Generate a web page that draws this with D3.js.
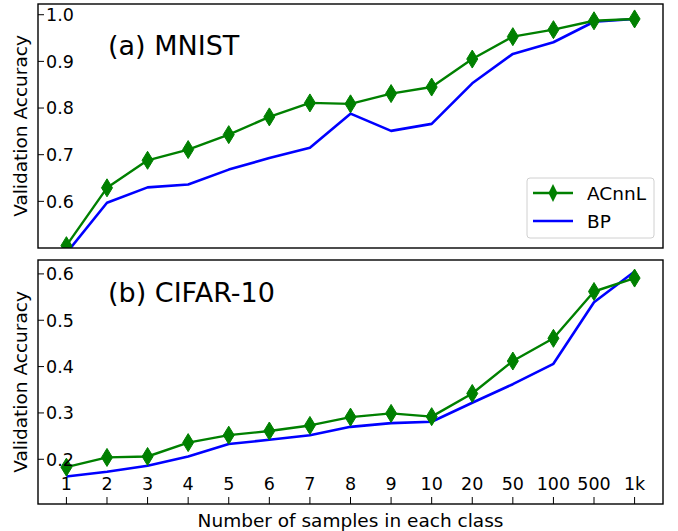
<!DOCTYPE html>
<html>
<head>
<meta charset="utf-8">
<script src="https://cdn.jsdelivr.net/npm/d3@7"></script>
<style>
  body { margin: 0; background: #fff; }
  text { font-family: "DejaVu Sans", sans-serif; fill: #000; }
</style>
</head>
<body>
<div id="chart"></div>
<script>
const categories = ["1", "2", "3", "4", "5", "6", "7", "8", "9", "10", "20", "50", "100", "500", "1k"];

const mnistACnnL = [0.505, 0.629, 0.688, 0.711, 0.743, 0.781, 0.811, 0.809, 0.831, 0.845, 0.905, 0.953, 0.968, 0.987, 0.991];
const mnistBP    = [0.489, 0.597, 0.630, 0.636, 0.668, 0.693, 0.715, 0.788, 0.751, 0.766, 0.853, 0.916, 0.941, 0.985, 0.991];

const cifarACnnL = [0.183, 0.204, 0.206, 0.236, 0.252, 0.261, 0.273, 0.291, 0.299, 0.292, 0.342, 0.412, 0.461, 0.562, 0.591];
const cifarBP    = [0.163, 0.173, 0.186, 0.206, 0.233, 0.242, 0.252, 0.270, 0.278, 0.281, 0.322, 0.362, 0.406, 0.539, 0.605];

const mnistTicks = [0.6, 0.7, 0.8, 0.9, 1.0];
const cifarTicks = [0.2, 0.3, 0.4, 0.5, 0.6];

const W = 678, H = 531;
const left = 38, right = 663;

const panels = [
  { id: "a", title: "(a) MNIST", top: 4, bottom: 248, domain: [0.5, 1.023], ticks: mnistTicks,
    acnnl: mnistACnnL, bp: mnistBP, titleY: 51, legend: true, xTicks: false },
  { id: "b", title: "(b) CIFAR-10", top: 260, bottom: 504, domain: [0.1035, 0.630], ticks: cifarTicks,
    acnnl: cifarACnnL, bp: cifarBP, titleY: 42, legend: false, xTicks: true }
];

const svg = d3.select("#chart").append("svg")
  .attr("width", W)
  .attr("height", H);

const x = d3.scaleLinear()
  .domain([-0.7, categories.length - 1 + 0.7])
  .range([left, right]);

const diamond = (w, h) => `M0,${-h}L${w},0L0,${h}L${-w},0Z`;

panels.forEach(p => {
  const y = d3.scaleLinear().domain(p.domain).range([p.bottom, p.top]);
  const g = svg.append("g");

  g.append("clipPath").attr("id", "clip-" + p.id)
    .append("rect")
    .attr("x", left).attr("y", p.top)
    .attr("width", right - left).attr("height", p.bottom - p.top);

  const plot = g.append("g").attr("clip-path", `url(#clip-${p.id})`);
  const line = d3.line().x((d, i) => x(i)).y(d => y(d));

  plot.append("path")
    .datum(p.bp)
    .attr("d", line)
    .attr("fill", "none")
    .attr("stroke", "#0000ff")
    .attr("stroke-width", 2.6)
    .attr("stroke-linejoin", "round");

  plot.append("path")
    .datum(p.acnnl)
    .attr("d", line)
    .attr("fill", "none")
    .attr("stroke", "#008000")
    .attr("stroke-width", 2.4)
    .attr("stroke-linejoin", "round");

  plot.selectAll(".mk")
    .data(p.acnnl)
    .enter().append("path")
    .attr("class", "mk")
    .attr("transform", (d, i) => `translate(${x(i)},${y(d)})`)
    .attr("d", diamond(5.5, 9))
    .attr("fill", "#008000")
    .attr("stroke", "#008000")
    .attr("stroke-width", 1);

  // y ticks (inside, labels inside)
  const yt = g.append("g");
  yt.selectAll("line")
    .data(p.ticks)
    .enter().append("line")
    .attr("x1", left).attr("x2", left + 6)
    .attr("y1", d => y(d)).attr("y2", d => y(d))
    .attr("stroke", "#000").attr("stroke-width", 1);
  yt.selectAll("text")
    .data(p.ticks)
    .enter().append("text")
    .attr("x", left + 8)
    .attr("y", d => y(d))
    .attr("dy", "0.36em")
    .style("font-size", "17.5px")
    .text(d => d.toFixed(1));

  if (p.xTicks) {
    const xt = g.append("g");
    xt.selectAll("line")
      .data(categories)
      .enter().append("line")
      .attr("x1", (d, i) => x(i)).attr("x2", (d, i) => x(i))
      .attr("y1", p.bottom).attr("y2", p.bottom - 7)
      .attr("stroke", "#000").attr("stroke-width", 1);
    xt.selectAll("text")
      .data(categories)
      .enter().append("text")
      .attr("x", (d, i) => x(i))
      .attr("y", p.bottom - 14)
      .attr("text-anchor", "middle")
      .style("font-size", "17.5px")
      .text(d => d);
  }

  g.append("rect")
    .attr("x", left).attr("y", p.top)
    .attr("width", right - left).attr("height", p.bottom - p.top)
    .attr("fill", "none")
    .attr("stroke", "#000")
    .attr("stroke-width", 1.4);

  g.append("text")
    .attr("x", 108)
    .attr("y", p.top + p.titleY)
    .style("font-size", "27px")
    .text(p.title);

  g.append("text")
    .attr("transform", `translate(27,${(p.top + p.bottom) / 2}) rotate(-90)`)
    .attr("text-anchor", "middle")
    .style("font-size", "18.5px")
    .text("Validation Accuracy");

  if (p.legend) {
    const lg = g.append("g");
    lg.append("rect")
      .attr("x", 527).attr("y", 178)
      .attr("width", 127).attr("height", 60)
      .attr("rx", 3)
      .attr("fill", "#fff").attr("fill-opacity", 0.8)
      .attr("stroke", "#d0d0d0").attr("stroke-width", 1);
    const items = [
      { name: "ACnnL", color: "#008000", marker: true, y: 193 },
      { name: "BP", color: "#0000ff", marker: false, y: 221 }
    ];
    items.forEach(it => {
      lg.append("line")
        .attr("x1", 533).attr("x2", 573)
        .attr("y1", it.y).attr("y2", it.y)
        .attr("stroke", it.color).attr("stroke-width", 2.5);
      if (it.marker) {
        lg.append("path")
          .attr("transform", `translate(553,${it.y})`)
          .attr("d", diamond(4.5, 9))
          .attr("fill", it.color);
      }
      lg.append("text")
        .attr("x", 587).attr("y", it.y)
        .attr("dy", "0.36em")
        .style("font-size", "18.5px")
        .text(it.name);
    });
  }
});

svg.append("text")
  .attr("x", (left + right) / 2)
  .attr("y", 526.5)
  .attr("text-anchor", "middle")
  .style("font-size", "18.5px")
  .text("Number of samples in each class");
</script>
</body>
</html>
